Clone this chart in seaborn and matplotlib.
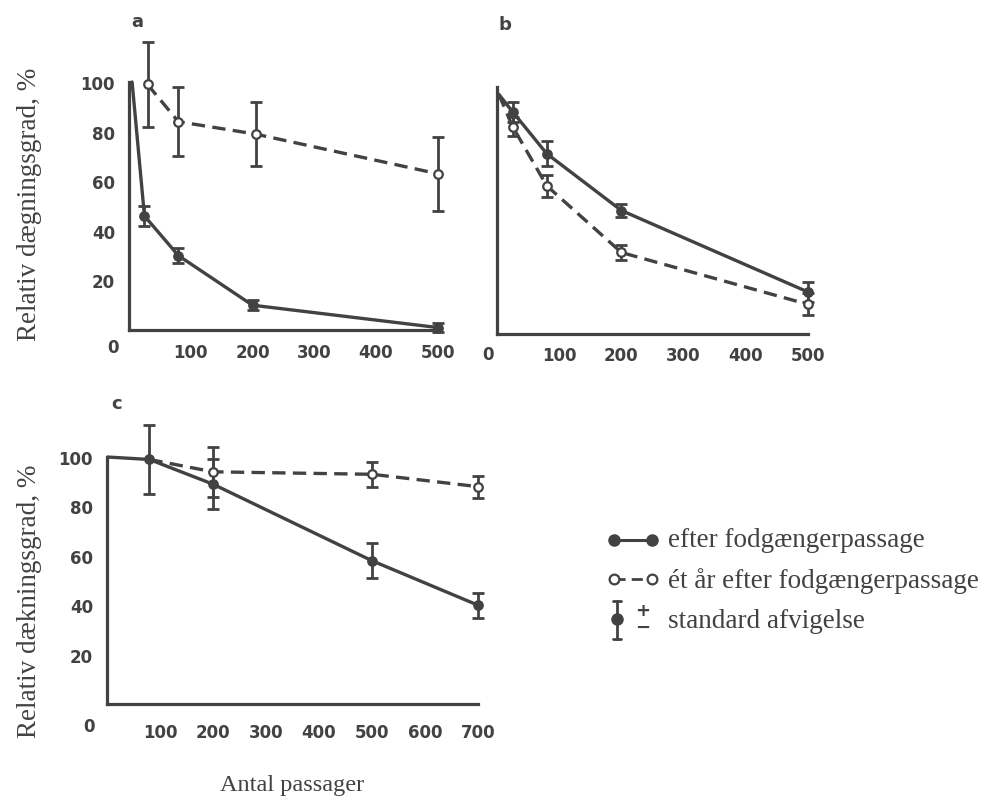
import numpy as np
import pandas as pd
import matplotlib
matplotlib.use("Agg")
import matplotlib.pyplot as plt
import seaborn as sns

sns.set_theme(style="white")
plt.rcParams['font.family'] = ['DejaVu Sans']

INK = '#424242'

# ---------------- data ----------------
# panel a
a_x = [25, 80, 200, 500]
a_after = [46, 30, 10, 1]
a_after_sd = [4, 3, 2, 2]
a_after_start = (5, 100)
a_year_x = [30, 80, 205, 500]
a_year = [99, 84, 79, 63]
a_year_sd = [17, 14, 13, 15]

# panel b
b_x = [25, 80, 200, 500]
b_after = [90, 73, 50, 17]
b_after_sd = [4, 5, 2.5, 4]
b_year = [84, 60, 33, 12]
b_year_sd = [4, 4.5, 3, 4.5]
b_start = (3, 97)

# panel c
c_x = [80, 200, 500, 700]
c_after = [99, 89, 58, 40]
c_after_sd = [14, 10, 7, 5]
c_after_start = (0, 100)
c_year_x = [200, 500, 700]
c_year = [94, 93, 88]
c_year_sd = [10, 5, 4.5]

ab_xticks = [100, 200, 300, 400, 500]
c_xticks = [100, 200, 300, 400, 500, 600, 700]
yticks = [20, 40, 60, 80, 100]

# ---------------- figure ----------------
W, H = 990, 804
fig = plt.figure(figsize=(W / 100, H / 100), dpi=100)
fig.patch.set_facecolor('white')


def px_axes(left, x_scale, xmax, y0, y_scale, ymin=-3, ymax=120):
    """create axes from pixel anchor points"""
    width = xmax * x_scale
    bottom = y0 - ymin * y_scale
    height = (ymax - ymin) * y_scale
    ax = fig.add_axes([left / W, 1 - bottom / H, width / W, height / H])
    ax.set_xlim(0, xmax)
    ax.set_ylim(ymin, ymax)
    return ax


def style_axes(ax, xmax_spine, xticks, ylabels=True):
    ax.set_facecolor('none')
    for s in ['top', 'right']:
        ax.spines[s].set_visible(False)
    for s in ['left', 'bottom']:
        ax.spines[s].set_color(INK)
        ax.spines[s].set_linewidth(2.3)
        ax.spines[s].set_position(('data', 0))
    ax.spines['left'].set_bounds(0, 100)
    ax.spines['bottom'].set_bounds(0, xmax_spine)
    ax.set_xticks(xticks)
    ax.set_xticklabels([str(t) for t in xticks], fontweight='bold')
    ax.set_yticks(yticks)
    if ylabels:
        ax.set_yticklabels([str(t) for t in yticks], fontweight='bold')
    else:
        ax.set_yticklabels([])
    ax.tick_params(axis='both', direction='in', length=9, width=2, color=INK,
                   labelcolor=INK, labelsize=12)
    ax.tick_params(axis='x', pad=9)
    ax.tick_params(axis='y', pad=10)
    ax.set_xlabel('')
    ax.set_ylabel('')


def series(ax, x, y, sd, start=None, filled=True):
    lx = list(x)
    ly = list(y)
    if start is not None:
        lx = [start[0]] + lx
        ly = [start[1]] + ly
    ax.errorbar(x, y, yerr=sd, fmt='none', ecolor=INK, elinewidth=2,
                capsize=4, capthick=2, zorder=2)
    ls = '-' if filled else (0, (4, 2.2))
    sns.lineplot(x=lx, y=ly, ax=ax, color=INK, linewidth=2.4, linestyle=ls,
                 sort=False, estimator=None, zorder=3)
    if filled:
        sns.scatterplot(x=x, y=y, ax=ax, color=INK, s=45, edgecolor=INK,
                        linewidth=1, zorder=4)
    else:
        sns.scatterplot(x=x, y=y, ax=ax, color='white', s=38, edgecolor=INK,
                        linewidth=1.6, zorder=4)


# panel a
ax_a = px_axes(129, 0.6175, 520, 331, 2.48)
series(ax_a, a_x, a_after, a_after_sd, start=a_after_start, filled=True)
series(ax_a, a_year_x, a_year, a_year_sd, filled=False)
style_axes(ax_a, 500, ab_xticks)

# panel b
ax_b = px_axes(497, 0.622, 520, 335, 2.47)
series(ax_b, b_x, b_after, b_after_sd, start=b_start, filled=True)
series(ax_b, b_x, b_year, b_year_sd, start=b_start, filled=False)
style_axes(ax_b, 500, ab_xticks, ylabels=False)

# panel c
ax_c = px_axes(107, 0.530, 720, 705, 2.47)
series(ax_c, c_x, c_after, c_after_sd, start=c_after_start, filled=True)
series(ax_c, c_year_x, c_year, c_year_sd, start=(c_x[0], c_after[0]), filled=False)
style_axes(ax_c, 700, c_xticks)
ax_c.tick_params(axis='x', pad=14)

# ---------------- overlay: labels, legend ----------------
ov = fig.add_axes([0, 0, 1, 1])
ov.set_xlim(0, W)
ov.set_ylim(H, 0)
ov.axis('off')
ov.patch.set_alpha(0)

serif = ['Liberation Serif', 'DejaVu Serif']

# zero labels
for (zx, zy) in [(113, 348), (488, 355), (89, 727)]:
    ov.text(zx, zy, '0', fontsize=12, fontweight='bold', color=INK,
            ha='center', va='center')

# panel letters
ov.text(137, 22, 'a', fontsize=13, color=INK, ha='center', va='center', fontweight='bold')
ov.text(505, 25, 'b', fontsize=13, color=INK, ha='center', va='center', fontweight='bold')
ov.text(117, 404, 'c', fontsize=13, color=INK, ha='center', va='center', fontweight='bold')

# axis titles
ov.text(30, 204, 'Relativ dægningsgrad, %', rotation=90, fontsize=19.5,
        family=serif, color=INK, ha='center', va='center')
ov.text(30, 601, 'Relativ dækningsgrad, %', rotation=90, fontsize=19.5,
        family=serif, color=INK, ha='center', va='center')
ov.text(292, 786, 'Antal passager', fontsize=17.5, family=serif, color=INK,
        ha='center', va='center')

# legend
ov.plot([614, 652], [541, 541], color=INK, lw=2.2, solid_capstyle='butt')
ov.plot([614, 652], [541, 541], ls='none', marker='o', ms=8, color=INK)
ov.plot([614, 652], [580, 580], color=INK, lw=2.0, ls=(0, (4, 2.2)))
ov.plot([614, 652], [580, 580], ls='none', marker='o', ms=7, mfc='white',
        mec=INK, mew=1.6)
ov.plot([617, 617], [602, 640], color=INK, lw=2)
ov.plot([613, 621], [602, 602], color=INK, lw=2)
ov.plot([613, 621], [640, 640], color=INK, lw=2)
ov.plot([617], [620], marker='o', ms=8, color=INK)
ov.text(643, 611, '+', fontsize=13, fontweight='bold', color=INK, ha='center', va='center')
ov.text(643, 628, '\u2212', fontsize=13, fontweight='bold', color=INK, ha='center', va='center')

ov.text(668, 541, 'efter fodgængerpassage', fontsize=19.5, family=serif,
        color=INK, ha='left', va='center')
ov.text(668, 581, 'ét år efter fodgængerpassage', fontsize=19.5, family=serif,
        color=INK, ha='left', va='center')
ov.text(668, 622, 'standard afvigelse', fontsize=19.5, family=serif,
        color=INK, ha='left', va='center')

fig.savefig('out.png', dpi=100, facecolor='white')
